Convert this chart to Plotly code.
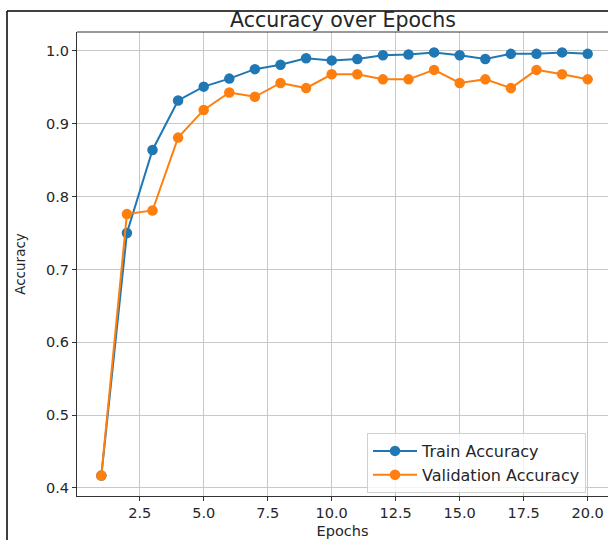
import plotly.graph_objects as go

epochs = list(range(1, 21))
train_acc = [0.417, 0.750, 0.864, 0.932, 0.951, 0.962, 0.975, 0.981, 0.990, 0.987,
             0.989, 0.994, 0.995, 0.998, 0.994, 0.989, 0.996, 0.996, 0.998, 0.996]
val_acc = [0.417, 0.776, 0.781, 0.881, 0.919, 0.943, 0.937, 0.956, 0.949, 0.968,
           0.968, 0.961, 0.961, 0.974, 0.956, 0.961, 0.949, 0.974, 0.968, 0.961]
x_ticks = [2.5, 5.0, 7.5, 10.0, 12.5, 15.0, 17.5, 20.0]
y_ticks = [0.4, 0.5, 0.6, 0.7, 0.8, 0.9, 1.0]

W, H = 608, 540
L, R, T, B = 77, 0, 32, 44
pw, ph = W - L - R, H - T - B

def px(xpix):
    return (xpix - L) / pw

def py(ypix):
    return (H - B - ypix) / ph

font = "DejaVu Sans, Verdana, sans-serif"
txt = "#262626"

fig = go.Figure()
fig.add_trace(go.Scatter(x=epochs, y=train_acc, mode="lines+markers", name="Train Accuracy",
                         line=dict(color="#1f77b4", width=2), marker=dict(size=10.5, color="#1f77b4")))
fig.add_trace(go.Scatter(x=epochs, y=val_acc, mode="lines+markers", name="Validation Accuracy",
                         line=dict(color="#ff7f0e", width=2), marker=dict(size=10.5, color="#ff7f0e")))

fig.update_layout(
    width=W, height=H,
    margin=dict(l=L, r=R, t=T, b=B, pad=0),
    paper_bgcolor="white", plot_bgcolor="white",
    font=dict(family=font, size=14, color=txt),
    title=dict(text="Accuracy over Epochs", xref="container", x=343 / W, xanchor="center",
               y=1 - 20 / H, yanchor="middle", font=dict(size=20.5, color=txt)),
    showlegend=True,
    legend=dict(x=px(367), y=py(493), xanchor="left", yanchor="bottom",
                bgcolor="rgba(255,255,255,0.8)", bordercolor="#d0d0d0", borderwidth=1,
                font=dict(size=16, color=txt), tracegroupgap=0, itemwidth=44),
    xaxis=dict(range=[0.05, 20.95 - 4 / 25.6], tickvals=x_ticks,
               ticktext=[f"{v:.1f}" for v in x_ticks],
               showgrid=True, gridcolor="#c8c8c8", gridwidth=1, zeroline=False,
               showline=True, linecolor="#333333", linewidth=1,
               ticks="outside", ticklen=4, tickcolor="#333333",
               tickfont=dict(size=14.5),
               title=dict(text="Epochs", standoff=5, font=dict(size=14.5))),
    yaxis=dict(range=[0.389, 1.026], tickvals=y_ticks,
               ticktext=[f"{v:.1f}" for v in y_ticks],
               showgrid=True, gridcolor="#c8c8c8", gridwidth=1, zeroline=False,
               showline=True, linecolor="#333333", linewidth=1,
               ticks="outside", ticklen=4, tickcolor="#333333",
               tickfont=dict(size=14.5),
               title=dict(text="Accuracy", standoff=17, font=dict(size=13.5))),
    shapes=[
        dict(type="line", xref="paper", yref="paper", x0=0, x1=1, y0=1, y1=1,
             line=dict(color="#333333", width=1)),
        dict(type="line", xref="paper", yref="paper", x0=px(7), x1=px(7), y0=py(11), y1=py(540),
             line=dict(color="black", width=1.5)),
        dict(type="line", xref="paper", yref="paper", x0=px(7), x1=px(608), y0=py(11), y1=py(11),
             line=dict(color="black", width=1.5)),
    ],
)

fig.write_html("out.html", config={"displayModeBar": False},
               post_script="document.body.style.margin='0';document.body.style.overflow='hidden';")
